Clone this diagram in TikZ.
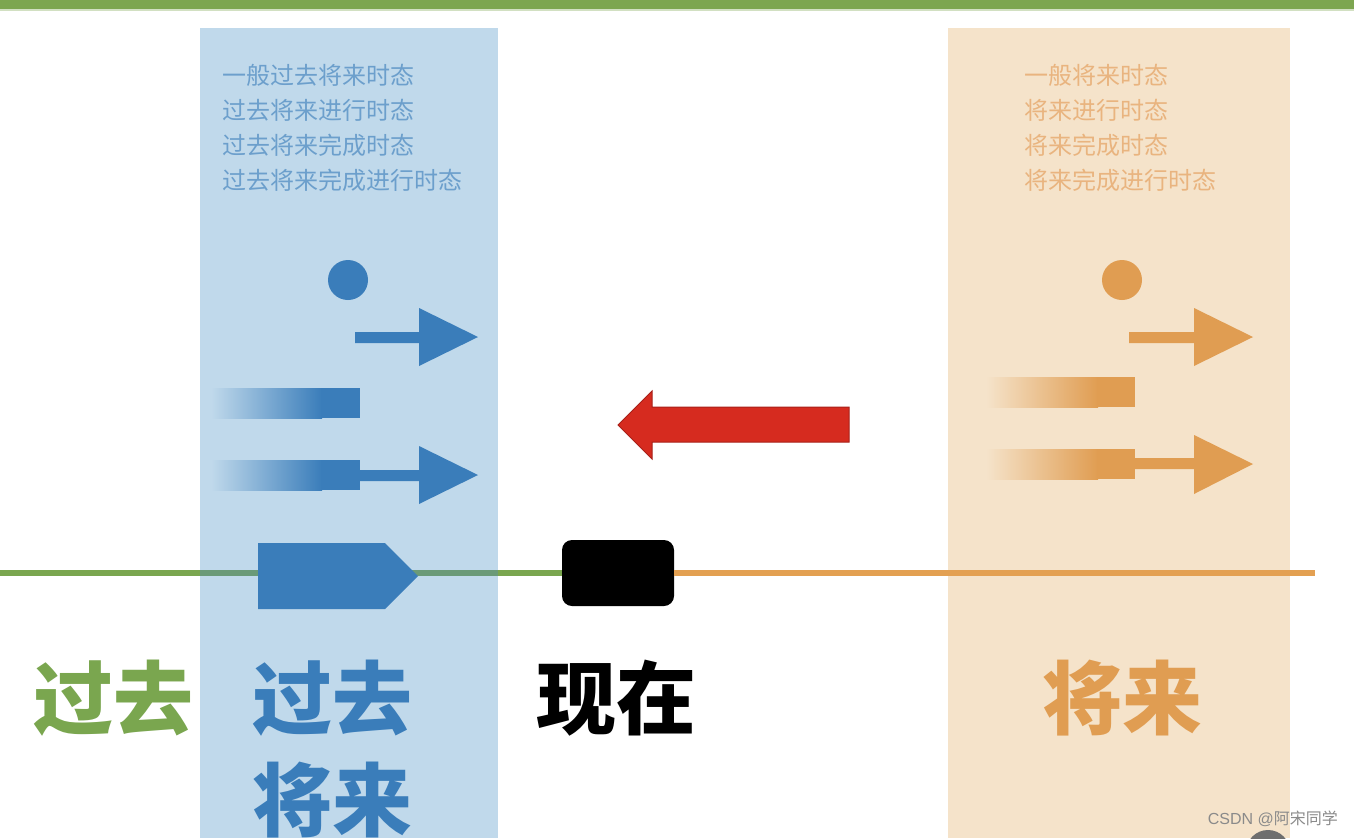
\documentclass[tikz,border=0pt]{standalone}
\usepackage{fontspec}
\newfontfamily\cjk{Noto Sans CJK SC}
\definecolor{topgreen}{HTML}{7DA650}
\definecolor{bluecol}{HTML}{C0D9EB}
\definecolor{bluedark}{HTML}{3A7DBA}
\definecolor{bluetext}{HTML}{6C9FCC}
\definecolor{orangecol}{HTML}{F5E3CA}
\definecolor{orangedark}{HTML}{E09D52}
\definecolor{orangetext}{HTML}{E9B47F}
\definecolor{linegreen}{HTML}{7AA64F}
\definecolor{linemix}{HTML}{6A9A78}
\definecolor{lineorange}{HTML}{E3A052}
\definecolor{redarrow}{HTML}{D62B1F}
\definecolor{redline}{HTML}{A82019}
\definecolor{wmgray}{HTML}{8A8A8A}
\tikzset{
  small/.style={anchor=west, inner sep=0pt, font=\cjk\fontsize{24}{24}\selectfont},
  big/.style={inner sep=0pt, font=\cjk\bfseries\fontsize{80}{80}\selectfont},
}
\begin{document}
\begin{tikzpicture}[x=1pt,y=-1pt]
\useasboundingbox (0,0) rectangle (1354,838);
\fill[white] (0,0) rectangle (1354,838);
% top bar
\fill[topgreen] (0,0) rectangle (1354,9);
\fill[topgreen!35] (0,9) rectangle (1354,11);
% columns
\fill[bluecol] (200,28) rectangle (498,838);
\fill[orangecol] (948,28) rectangle (1290,838);
% small texts (blue)
\node[small, text=bluetext] (b1) at (222,75) {一般过去将来时态};
\node[small, text=bluetext] (b2) at (222,110) {过去将来进行时态};
\node[small, text=bluetext] (b3) at (222,145) {过去将来完成时态};
\node[small, text=bluetext] (b4) at (222,180) {过去将来完成进行时态};
% small texts (orange)
\node[small, text=orangetext] (o1) at (1024,75) {一般将来时态};
\node[small, text=orangetext] (o2) at (1024,110) {将来进行时态};
\node[small, text=orangetext] (o3) at (1024,145) {将来完成时态};
\node[small, text=orangetext] (o4) at (1024,180) {将来完成进行时态};
% blue icons
\fill[bluedark] (348,280) circle (20);
\fill[bluedark] (355,332) -- (419,332) -- (419,308) -- (478,337) -- (419,366) -- (419,343) -- (355,343) -- cycle;
\shade[left color=bluecol, right color=bluedark] (211,388) rectangle (322,418);
\fill[bluedark] (321,388) rectangle (360,418);
\shade[left color=bluecol, right color=bluedark] (211,460) rectangle (322,490);
\fill[bluedark] (321,460) rectangle (360,490);
\fill[bluedark] (359,470) -- (419,470) -- (419,446) -- (478,475) -- (419,504) -- (419,481) -- (359,481) -- cycle;
% orange icons
\fill[orangedark] (1122,280) circle (20);
\fill[orangedark] (1129,332) -- (1194,332) -- (1194,308) -- (1253,337) -- (1194,366) -- (1194,343) -- (1129,343) -- cycle;
\shade[left color=orangecol, right color=orangedark] (986,377) rectangle (1098,407);
\fill[orangedark] (1097,377) rectangle (1135,407);
\shade[left color=orangecol, right color=orangedark] (986,449) rectangle (1098,479);
\fill[orangedark] (1097,449) rectangle (1135,479);
\fill[orangedark] (1134,458) -- (1194,458) -- (1194,435) -- (1253,464) -- (1194,494) -- (1194,469) -- (1134,469) -- cycle;
% red arrow
\fill[redarrow, draw=redline, line width=1pt] (849,407) -- (652,407) -- (652,391) -- (618,425) -- (652,459) -- (652,442) -- (849,442) -- cycle;
% timeline
\node[fill=black, rounded corners=10pt, minimum width=112pt, minimum height=66pt, inner sep=0pt] (now) at (618,573) {};
\coordinate (tl0) at (0,573);
\coordinate (tlb0) at (200,573);
\coordinate (tlb1) at (498,573);
\coordinate (tlend) at (1315,573);
\draw[linegreen, line width=6pt] (tl0) -- (tlb0);
\draw[linemix, line width=6pt] (tlb0) -- (tlb1);
\draw[linegreen, line width=6pt] (tlb1) -- (now.west);
\draw[lineorange, line width=6pt] (now.east) -- (tlend);
\fill[bluedark] (258,543) -- (385,543) -- (418,576) -- (385,609) -- (258,609) -- cycle;
% big labels
\node[big, text=linegreen] (past) at (113,698) {过去};
\node[big, text=bluedark] (pf1) at (332,698) {过去};
\node[big, text=bluedark] (pf2) at (332,800) {将来};
\node[big, text=black] (present) at (616,698) {现在};
\node[big, text=orangedark] (future) at (1122,698) {将来};
% watermark
\fill[wmgray!80!black] (1268,852) circle (22);
\node[anchor=east, inner sep=0pt, text=wmgray, font=\fontspec{Liberation Sans}\fontsize{16}{16}\selectfont] (wm) at (1338,819) {CSDN @{\cjk 阿宋同学}};
\end{tikzpicture}
\end{document}
